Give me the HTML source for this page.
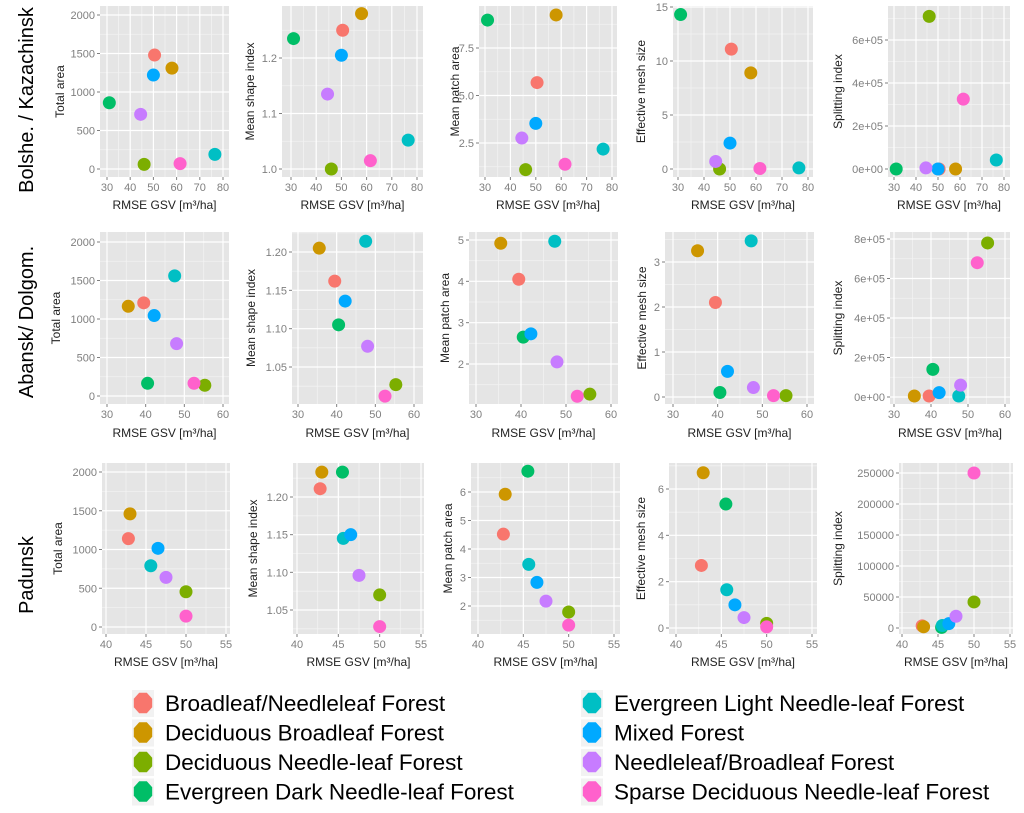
<!DOCTYPE html>
<html><head><meta charset="utf-8"><style>
html,body{margin:0;padding:0;background:#fff;}
svg{display:block;font-family:"Liberation Sans",sans-serif;}
</style></head><body>
<svg id="fig" width="1024" height="813" viewBox="0 0 1024 813" xmlns="http://www.w3.org/2000/svg">
<g font-size="20" fill="#000">
<text transform="translate(33,100) rotate(-90)" text-anchor="middle">Bolshe. / Kazachinsk</text>
<text transform="translate(33,322) rotate(-90)" text-anchor="middle">Abansk/ Dolgom.</text>
<text transform="translate(33,575) rotate(-90)" text-anchor="middle">Padunsk</text>
</g>
<g id="panels"></g>
<g id="legend"></g>
</svg>
<script>
const classes = ["Broadleaf/Needleleaf Forest","Deciduous Broadleaf Forest","Deciduous Needle-leaf Forest","Evergreen Dark Needle-leaf Forest","Evergreen Light Needle-leaf Forest","Mixed Forest","Needleleaf/Broadleaf Forest","Sparse Deciduous Needle-leaf Forest"];
const colors = ["#F8766D","#CD9600","#7CAE00","#00BE67","#00BFC4","#00A9FF","#C77CFF","#FF61CC"];
const rmseBolshe = [50.5,58,46,31,76.5,50,44.5,61.5];
const rmseAbansk = [39.5,35.5,55.3,40.5,47.5,42.2,48,52.5];
const rmsePadunsk = [42.8,43,50,45.5,45.6,46.5,47.5,50];
const metricNames = ["Total area","Mean shape index","Mean patch area","Effective mesh size","Splitting index"];
const bolsheTotalArea = [1480,1310,60,860,190,1220,710,70];
const bolsheShape = [1.25,1.28,1.0,1.235,1.052,1.205,1.135,1.015];
const bolshePatch = [5.68,9.24,1.1,8.97,2.18,3.53,2.76,1.38];
const bolsheMesh = [11.1,8.9,0,14.3,0.1,2.4,0.7,0.05];
const bolsheSplit = [0,0,710000,0,42000,0,5000,325000];
const abanskTotalArea = [1210,1165,140,165,1560,1045,680,165];
const abanskShape = [1.162,1.205,1.027,1.105,1.214,1.136,1.077,1.012];
const abanskPatch = [4.05,4.92,1.27,2.65,4.97,2.73,2.05,1.22];
const abanskMesh = [2.1,3.25,0.03,0.1,3.47,0.57,0.21,0.03];
const abanskSplit = [5000,5000,780000,140000,5000,22000,60000,680000];
const padunskTotalArea = [1140,1460,455,null,790,1015,640,140];
const padunskShape = [1.211,1.233,1.07,1.233,1.145,1.15,1.096,1.028];
const padunskPatch = [4.52,5.92,1.79,6.73,3.46,2.83,2.17,1.33];
const padunskMesh = [2.7,6.7,0.2,5.35,1.65,1.0,0.45,0.05];
const padunskSplit = [3500,2000,42000,1000,4000,7000,19000,250000];
const xTicksBolshe = [30,40,50,60,70,80];
const xTicksAbansk = [30,40,50,60];
const xTicksPadunsk = [40,45,50,55];
const yTicksArea = [0,500,1000,1500,2000];
const yTicksShape1 = [1.0,1.1,1.2];
const yTicksShapeLbl1 = ["1.0","1.1","1.2"];
const yTicksShape2 = [1.05,1.10,1.15,1.20];
const yTicksShapeLbl2 = ["1.05","1.10","1.15","1.20"];
const yTicksPatch1 = [2.5,5.0,7.5];
const yTicksPatchLbl1 = ["2.5","5.0","7.5"];
const yTicksPatch2 = [2,3,4,5];
const yTicksPatch3 = [2,3,4,5,6];
const yTicksMesh1 = [0,5,10,15];
const yTicksMesh2 = [0,1,2,3];
const yTicksMesh3 = [0,2,4,6];
const yTicksSplit1 = [0,200000,400000,600000];
const yTicksSplitLbl1 = ["0e+00","2e+05","4e+05","6e+05"];
const yTicksSplit2 = [0,200000,400000,600000,800000];
const yTicksSplitLbl2 = ["0e+00","2e+05","4e+05","6e+05","8e+05"];
const yTicksSplit3 = [0,50000,100000,150000,200000,250000];

// layout (pixel geometry, not data)
const rows = [{t:6,b:177,xt:205},{t:232,b:404,xt:433},{t:463,b:634,xt:662}];
const panels = [
 {r:0,m:0,l:100,rr:229,xs:rmseBolshe,ys:bolsheTotalArea,xt:xTicksBolshe,xa:[30,107,80,223],yt:yTicksArea,ya:[0,169,2000,15],yl:60},
 {r:0,m:1,l:282,rr:423,xs:rmseBolshe,ys:bolsheShape,xt:xTicksBolshe,xa:[30,291,80,417],yt:yTicksShape1,ytl:yTicksShapeLbl1,ya:[1.0,169,1.2,58],yl:250},
 {r:0,m:2,l:479,rr:617,xs:rmseBolshe,ys:bolshePatch,xt:xTicksBolshe,xa:[30,485,80,612],yt:yTicksPatch1,ytl:yTicksPatchLbl1,ya:[2.5,143,7.5,48],yl:455},
 {r:0,m:3,l:673,rr:813,xs:rmseBolshe,ys:bolsheMesh,xt:xTicksBolshe,xa:[30,678,80,808],yt:yTicksMesh1,ya:[0,169,15,7],yl:641},
 {r:0,m:4,l:888,rr:1010,xs:rmseBolshe,ys:bolsheSplit,xt:xTicksBolshe,xa:[30,894,80,1004],yt:yTicksSplit1,ytl:yTicksSplitLbl1,ya:[0,169,600000,40],yl:838},
 {r:1,m:0,l:100,rr:229,xs:rmseAbansk,ys:abanskTotalArea,xt:xTicksAbansk,xa:[30,107,60,223],yt:yTicksArea,ya:[0,396,2000,242],yl:56},
 {r:1,m:1,l:292,rr:423,xs:rmseAbansk,ys:abanskShape,xt:xTicksAbansk,xa:[30,298,60,414],yt:yTicksShape2,ytl:yTicksShapeLbl2,ya:[1.05,367,1.2,252],yl:251},
 {r:1,m:2,l:469,rr:618,xs:rmseAbansk,ys:abanskPatch,xt:xTicksAbansk,xa:[30,476,60,611],yt:yTicksPatch2,ya:[2,364,5,240],yl:445},
 {r:1,m:3,l:665,rr:814,xs:rmseAbansk,ys:abanskMesh,xt:xTicksAbansk,xa:[30,673,60,807],yt:yTicksMesh2,ya:[0,397,3,262],yl:642},
 {r:1,m:4,l:890,rr:1010,xs:rmseAbansk,ys:abanskSplit,xt:xTicksAbansk,xa:[30,894,60,1005],yt:yTicksSplit2,ytl:yTicksSplitLbl2,ya:[0,397,800000,239],yl:838},
 {r:2,m:0,l:102,rr:230,xs:rmsePadunsk,ys:padunskTotalArea,xt:xTicksPadunsk,xa:[40,106,55,226],yt:yTicksArea,ya:[0,627,2000,472],yl:58},
 {r:2,m:1,l:293,rr:424,xs:rmsePadunsk,ys:padunskShape,xt:xTicksPadunsk,xa:[40,297,55,421],yt:yTicksShape2,ytl:yTicksShapeLbl2,ya:[1.05,610,1.2,497],yl:253},
 {r:2,m:2,l:471,rr:620,xs:rmsePadunsk,ys:padunskPatch,xt:xTicksPadunsk,xa:[40,478,55,614],yt:yTicksPatch3,ya:[2,606,6,492],yl:448},
 {r:2,m:3,l:669,rr:817,xs:rmsePadunsk,ys:padunskMesh,xt:xTicksPadunsk,xa:[40,676,55,812],yt:yTicksMesh3,ya:[0,628,6,489],yl:641},
 {r:2,m:4,l:899,rr:1013,xs:rmsePadunsk,ys:padunskSplit,xt:xTicksPadunsk,xa:[40,902,55,1010],yt:yTicksSplit3,ya:[0,628,250000,473],yl:838}
];
const NS="http://www.w3.org/2000/svg";
function mk(tag,attrs,parent){const e=document.createElementNS(NS,tag);for(const k in attrs)e.setAttribute(k,attrs[k]);if(parent)parent.appendChild(e);return e;}
const root=document.getElementById('panels');
panels.forEach((p,pi)=>{
  const row=rows[p.r];const t=row.t,b=row.b;
  const sx=v=>p.xa[1]+(v-p.xa[0])*(p.xa[3]-p.xa[1])/(p.xa[2]-p.xa[0]);
  const sy=v=>p.ya[1]+(v-p.ya[0])*(p.ya[3]-p.ya[1])/(p.ya[2]-p.ya[0]);
  const g=mk('g',{},root);
  
  
  const bg=mk('rect',{x:p.l,y:t,width:p.rr-p.l,height:b-t,fill:'#E5E5E5'},g);
  
  
  const xst=p.xt[1]-p.xt[0], yst=p.yt[1]-p.yt[0];
  for(let v=p.xt[0]-xst/2;v<=p.xt[p.xt.length-1]+xst/2+1e-9;v+=xst){const X=sx(v);if(X>p.l&&X<p.rr)mk('line',{x1:X,x2:X,y1:t,y2:b,stroke:'#F2F2F2','stroke-width':0.8},g);}
  for(let v=p.yt[0]-yst/2;v<=p.yt[p.yt.length-1]+yst/2+1e-9;v+=yst){const Y=sy(v);if(Y>t&&Y<b)mk('line',{x1:p.l,x2:p.rr,y1:Y,y2:Y,stroke:'#F2F2F2','stroke-width':0.8},g);}
  p.xt.forEach(v=>{const X=sx(v);
    mk('line',{x1:X,x2:X,y1:t,y2:b,stroke:'#fff','stroke-width':1.2},g);
    mk('line',{x1:X,x2:X,y1:b,y2:b+3,stroke:'#7F7F7F','stroke-width':1},g);
    const tx=mk('text',{x:X,y:b+14,'text-anchor':'middle','font-size':11,fill:'#7F7F7F'},g);
    
    
    tx.textContent=String(v);});
  p.yt.forEach((v,i)=>{const Y=sy(v);
    mk('line',{x1:p.l,x2:p.rr,y1:Y,y2:Y,stroke:'#fff','stroke-width':1.2},g);
    mk('line',{x1:p.l-3,x2:p.l,y1:Y,y2:Y,stroke:'#7F7F7F','stroke-width':1},g);
    const ty=mk('text',{x:p.l-5,y:Y+4,'text-anchor':'end','font-size':11,fill:'#7F7F7F'},g);
    
    
    ty.textContent=p.ytl?p.ytl[i]:String(v);});
  const xt=mk('text',{x:(p.l+p.rr)/2,y:row.xt+4,'text-anchor':'middle','font-size':12,fill:'#222'},g);
  
  
  xt.textContent='RMSE GSV [m³/ha]';
  const yt=mk('text',{transform:'translate('+(p.yl+4)+','+((t+b)/2)+') rotate(-90)','text-anchor':'middle','font-size':12,fill:'#222'},g);
  
  
  yt.textContent=metricNames[p.m];
  p.ys.forEach((v,i)=>{ if(v===null)return;
    const c=mk('circle',{cx:sx(p.xs[i]),cy:sy(v),r:6.5,fill:colors[i]},g);
    
    
  });
});
const lg=document.getElementById('legend');
classes.forEach((name,i)=>{
  const col=i<4?0:1, r=i%4;
  const x=col?592:143, y=703+r*29.5;
  const e=mk('g',{},lg);
  
  
  mk('rect',{x:x-11,y:y-13,width:22,height:27,fill:'#F2F2F2'},e);
  const pts=[];for(let k=0;k<8;k++){const a=Math.PI/8+k*Math.PI/4;pts.push((x+10*Math.cos(a)).toFixed(1)+','+(y+11*Math.sin(a)).toFixed(1));}
  mk('polygon',{points:pts.join(' '),fill:colors[i]},e);
  const tx=mk('text',{x:x+22,y:y+8,'font-size':22.5,fill:'#000'},e);
  
  
  tx.textContent=name;
});
</script>
</body></html>
